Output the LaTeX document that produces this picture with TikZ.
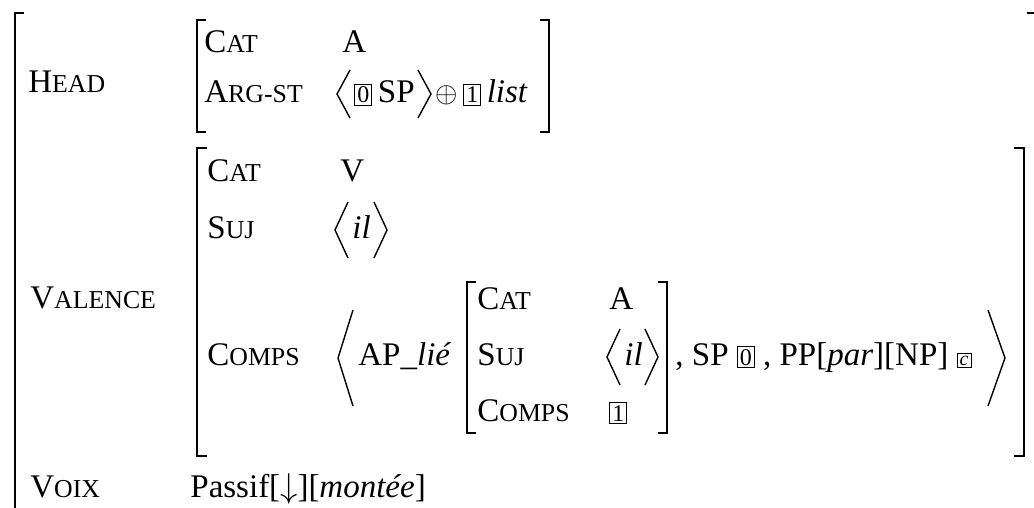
\documentclass[tikz,border=0pt]{standalone}
\usepackage{fontspec}
\setmainfont{Liberation Serif}
\usetikzlibrary{positioning}
\newcommand{\fsc}[2]{#1{\fontsize{12.9}{14}\selectfont #2}}
\newcommand{\tagbox}[1]{{\setlength{\fboxsep}{1pt}\setlength{\fboxrule}{0.5pt}\fbox{\fontsize{12}{12}\selectfont #1}}}
\newcommand{\tagsmall}[1]{{\setlength{\fboxsep}{1pt}\setlength{\fboxrule}{0.5pt}\fbox{\fontsize{10}{10}\selectfont\itshape #1}}}
\tikzset{
  avmtext/.style = {
    anchor=base west,
    inner sep=0pt,
    font=\fontsize{16.5}{19}\selectfont
  },
  avmbrack/.style = {
    line width=1pt
  },
  avmangle/.style = {
    line width=0.7pt
  }
}

\begin{document}
\begin{tikzpicture}[x=0.5pt, y=-0.5pt]
    \useasboundingbox (0,0) rectangle (1034,508);
    % outer matrix
    \draw[avmbrack] (24,13) -- (15,13) -- (15,512);
    \draw[avmbrack] (1027,13) -- (1034,13);
    \node[avmtext] (head) at (28,93) {\fsc{H}{EAD}};
    \node[avmtext] (valence) at (30,308) {\fsc{V}{ALENCE}};
    \node[avmtext] (voix) at (30,497) {\fsc{V}{OIX}};
    \node[avmtext] (voixval) at (190,497) {Passif[$\downarrow$][\textit{montée}]};
    % HEAD value
    \draw[avmbrack] (206,20) -- (197,20) -- (197,132) -- (206,132);
    \draw[avmbrack] (540,20) -- (549,20) -- (549,132) -- (540,132);
    \node[avmtext] (hcat) at (204,53) {\fsc{C}{AT}};
    \node[avmtext] (hcatval) at (342,53) {A};
    \node[avmtext] (harg) at (204,103) {\fsc{A}{RG-ST}};
    \draw[avmangle] (350,70) -- (337,94) -- (350,118);
    \node[avmtext] (hsp) at (354,103) {\tagbox{0}\,SP};
    \draw[avmangle] (418,70) -- (431,94) -- (418,118);
    \node[avmtext] (hlist) at (435,103) {{\fontsize{14}{14}\selectfont$\oplus$}\,\tagbox{1}\,\textit{list}};
    % VALENCE value
    \draw[avmbrack] (207,148) -- (197,148) -- (197,456) -- (207,456);
    \draw[avmbrack] (1014,148) -- (1024,148) -- (1024,456) -- (1014,456);
    \node[avmtext] (vcat) at (207,182) {\fsc{C}{AT}};
    \node[avmtext] (vcatval) at (340,182) {V};
    \node[avmtext] (vsuj) at (207,238) {\fsc{S}{UJ}};
    \draw[avmangle] (348,202) -- (335,230) -- (348,258);
    \node[avmtext] (vsujval) at (352,238) {\textit{il}};
    \draw[avmangle] (374,202) -- (387,230) -- (374,258);
    \node[avmtext] (vcomps) at (207,365) {\fsc{C}{OMPS}};
    \draw[avmangle] (353,310) -- (338,358) -- (353,406);
    \node[avmtext] (aplie) at (358,365) {AP\_\textit{lié}};
    % inner matrix
    \draw[avmbrack] (476,282) -- (467,282) -- (467,433) -- (476,433);
    \draw[avmbrack] (658,282) -- (667,282) -- (667,433) -- (658,433);
    \node[avmtext] (icat) at (477,309) {\fsc{C}{AT}};
    \node[avmtext] (icatval) at (609,309) {A};
    \node[avmtext] (isuj) at (477,365) {\fsc{S}{UJ}};
    \draw[avmangle] (620,329) -- (607,357) -- (620,385);
    \node[avmtext] (isujval) at (624,365) {\textit{il}};
    \draw[avmangle] (645,329) -- (658,357) -- (645,385);
    \node[avmtext] (icomps) at (477,421) {\fsc{C}{OMPS}};
    \node[avmtext] (icompsval) at (609,421) {\tagbox{1}};
    \node[avmtext] (rest) at (675,365) {, SP \tagbox{0} , PP[\textit{par}][NP] \tagsmall{c}};
    \draw[avmangle] (988,310) -- (1005,358) -- (988,406);
\end{tikzpicture}
\end{document}
